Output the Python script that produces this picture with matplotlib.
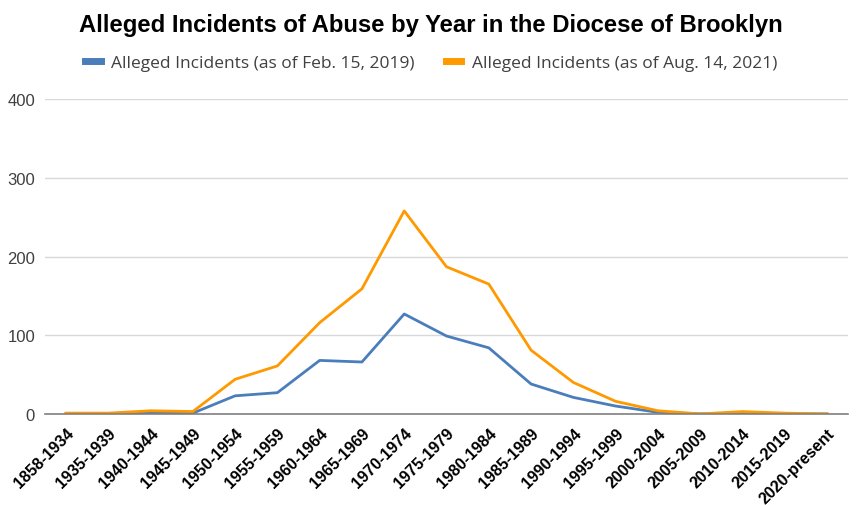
import matplotlib
matplotlib.use("Agg")
import matplotlib.pyplot as plt
from matplotlib.lines import Line2D
from matplotlib import font_manager

categories = ["1858-1934", "1935-1939", "1940-1944", "1945-1949", "1950-1954",
              "1955-1959", "1960-1964", "1965-1969", "1970-1974", "1975-1979",
              "1980-1984", "1985-1989", "1990-1994", "1995-1999", "2000-2004",
              "2005-2009", "2010-2014", "2015-2019", "2020-present"]
feb2019 = [0, 0, 1, 1, 23, 27, 68, 66, 127, 99, 84, 38, 21, 10, 2, 0, 1, 0, 0]
aug2021 = [1, 1, 4, 3, 44, 61, 116, 159, 258, 187, 165, 81, 40, 16, 4, 0, 3, 1, 0]
series_names = ["Alleged Incidents (as of Feb. 15, 2019)",
                "Alleged Incidents (as of Aug. 14, 2021)"]
yticks = [0, 100, 200, 300, 400]

blue = "#4A7EBB"
orange = "#FF9900"

names = {f.name for f in font_manager.fontManager.ttflist}
narrow = "Liberation Sans Narrow" if "Liberation Sans Narrow" in names else None
xt_family = narrow if narrow else "Liberation Sans"
xt_size = 12.5 if narrow else 11.6

fig = plt.figure(figsize=(8.62, 5.06), dpi=100)
ax = fig.add_axes([0.052, 0.18, 0.932, 0.622])
x = list(range(len(categories)))
ax.plot(x, feb2019, color=blue, lw=2.0, solid_joinstyle="round", zorder=3)
ax.plot(x, aug2021, color=orange, lw=2.0, solid_joinstyle="round", zorder=4)

ax.set_xlim(-0.5, len(categories) - 0.5)
ax.set_ylim(0, 400)
ax.set_yticks(yticks)
ax.set_yticklabels([str(v) for v in yticks], fontsize=12, color="#404040",
                   family="Liberation Sans")
ax.set_xticks(x)
ax.set_xticklabels(categories, rotation=45, ha="right", rotation_mode="anchor",
                   fontsize=xt_size, fontweight="bold", family=xt_family)
ax.tick_params(axis="both", length=0)
ax.tick_params(axis="x", pad=8)
ax.tick_params(axis="y", pad=7)
ax.grid(axis="y", color="#D9D9D9", lw=1.0)
ax.set_axisbelow(True)
for s in ["top", "right", "left"]:
    ax.spines[s].set_visible(False)
ax.spines["bottom"].set_color("#808080")
ax.spines["bottom"].set_linewidth(1.2)
ax.spines["bottom"].set_zorder(5)

fig.text(0.5, 0.95, "Alleged Incidents of Abuse by Year in the Diocese of Brooklyn",
         ha="center", va="center", fontsize=17.2, fontweight="bold",
         family="Liberation Sans")

handles = [Line2D([0], [0], color=blue, lw=5), Line2D([0], [0], color=orange, lw=5)]
leg = fig.legend(handles, series_names, loc="center", bbox_to_anchor=(0.5, 0.873),
                 ncol=2, frameon=False, handlelength=0.9, handletextpad=0.6,
                 columnspacing=1.8, prop={"family": "Open Sans", "size": 12.5})
for t in leg.get_texts():
    t.set_color("#404040")

fig.savefig("out.png", dpi=100)
